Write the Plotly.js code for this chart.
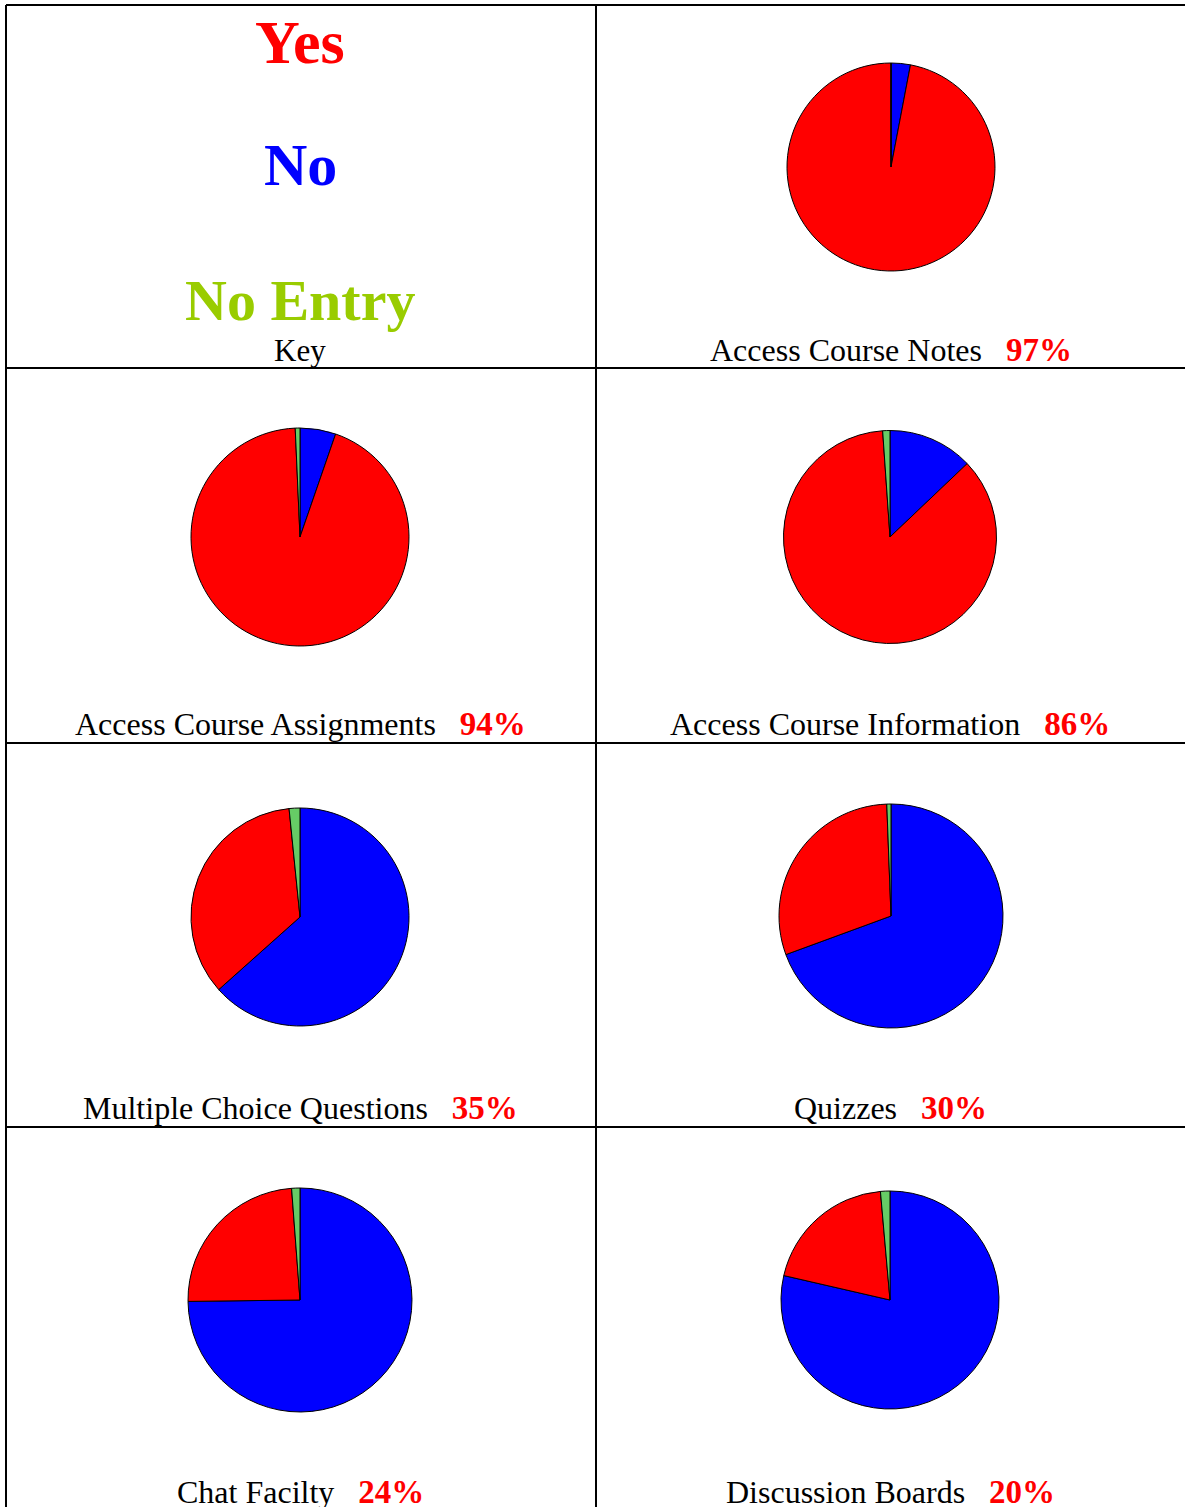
<!DOCTYPE html>
<html>
<head>
<meta charset="utf-8">
<script src="https://cdn.plot.ly/plotly-3.0.1.min.js"></script>
<style>
  html, body { margin: 0; padding: 0; background: #ffffff; }
  #chart { width: 1185px; height: 1507px; }
</style>
</head>
<body>
<div id="chart"></div>
<script>
// ---- Data ----
const categories = ['No', 'Yes', 'No Entry'];
const sliceColors = ['#0000ff', '#ff0000', '#66cc66'];
const keyLabels = ['Yes', 'No', 'No Entry'];
const keyColors = ['#ff0000', '#0000ff', '#99cc00'];
const keyTitle = 'Key';

const questions = [
  'Access Course Notes',
  'Access Course Assignments',
  'Access Course Information',
  'Multiple Choice Questions',
  'Quizzes',
  'Chat Facilty',
  'Discussion Boards'
];
const yesValues     = [97, 94, 86, 35, 30, 24, 20];
const noValues      = [3, 5.3, 12.9, 63.4, 69.4, 74.8, 78.6];
const noEntryValues = [0, 0.7, 1.1, 1.6, 0.6, 1.2, 1.4];

// ---- Layout helpers (pixel geometry) ----
const W = 1185, H = 1507;
const px = x => x / W;
const py = y => 1 - y / H;

const pieCenters = [[891,167],[300,537],[890,537],[300,917],[891,916],[300,1300],[890,1300]];
const pieRadii = [104, 109, 106.5, 109, 112, 112, 109];
const labelY = [350, 724, 724, 1108, 1108, 1492, 1492];
const labelX = [891, 300, 890, 300, 890, 300, 890];

const traces = questions.map((q, i) => {
  const [cx, cy] = pieCenters[i];
  const r = pieRadii[i];
  return {
    type: 'pie',
    labels: categories,
    values: [noValues[i], yesValues[i], noEntryValues[i]],
    sort: false,
    direction: 'clockwise',
    rotation: 0,
    textinfo: 'none',
    hoverinfo: 'label+percent',
    showlegend: false,
    marker: { colors: sliceColors, line: { color: '#000000', width: 1 } },
    domain: { x: [px(cx - r), px(cx + r)], y: [py(cy + r), py(cy - r)] }
  };
});

const serif = 'Liberation Serif, Times New Roman, serif';
const annotations = [];
const keyY = [42, 165, 300];
const keySizes = [62, 60, 58];
keyLabels.forEach((k, i) => {
  annotations.push({
    xref: 'paper', yref: 'paper', x: px(300), y: py(keyY[i]),
    xanchor: 'center', yanchor: 'middle', showarrow: false,
    text: '<b>' + k + '</b>',
    font: { family: serif, size: keySizes[i], color: keyColors[i] }
  });
});
annotations.push({
  xref: 'paper', yref: 'paper', x: px(300), y: py(350),
  xanchor: 'center', yanchor: 'middle', showarrow: false,
  text: keyTitle,
  font: { family: serif, size: 31, color: '#000000' }
});
questions.forEach((q, i) => {
  annotations.push({
    xref: 'paper', yref: 'paper', x: px(labelX[i]), y: py(labelY[i]),
    xanchor: 'center', yanchor: 'middle', showarrow: false,
    text: q + '\u00a0\u00a0\u00a0<span style="color:#ff0000;font-size:33px"><b>' + yesValues[i] + '%</b></span>',
    font: { family: serif, size: 32, color: '#000000' }
  });
});

const lineStyle = { color: '#000000', width: 2 };
const shapes = [
  { type: 'line', xref: 'paper', yref: 'paper', x0: px(6), x1: 1, y0: py(5), y1: py(5), line: lineStyle },
  { type: 'line', xref: 'paper', yref: 'paper', x0: px(6), x1: px(6), y0: py(5), y1: 0, line: lineStyle },
  { type: 'line', xref: 'paper', yref: 'paper', x0: px(596), x1: px(596), y0: py(5), y1: 0, line: lineStyle },
  { type: 'line', xref: 'paper', yref: 'paper', x0: px(6), x1: 1, y0: py(368), y1: py(368), line: lineStyle },
  { type: 'line', xref: 'paper', yref: 'paper', x0: px(6), x1: 1, y0: py(743), y1: py(743), line: lineStyle },
  { type: 'line', xref: 'paper', yref: 'paper', x0: px(6), x1: 1, y0: py(1127), y1: py(1127), line: lineStyle }
];

const layout = {
  width: W, height: H,
  margin: { l: 0, r: 0, t: 0, b: 0 },
  paper_bgcolor: '#ffffff',
  plot_bgcolor: '#ffffff',
  showlegend: false,
  annotations: annotations,
  shapes: shapes
};

Plotly.newPlot('chart', traces, layout, { displayModeBar: false, staticPlot: true });
</script>
</body>
</html>
